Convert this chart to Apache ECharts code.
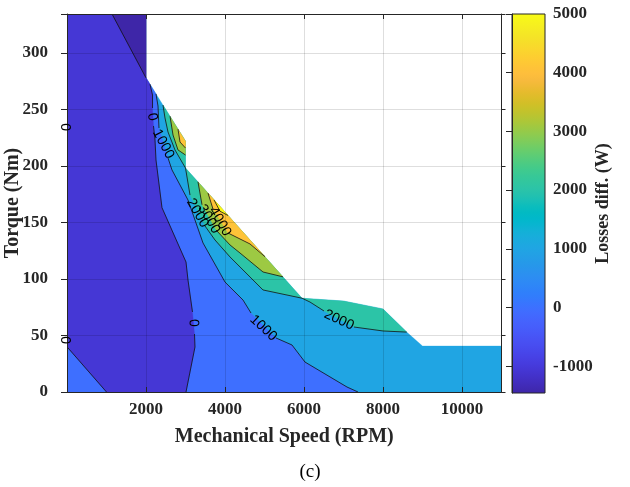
<!DOCTYPE html>
<html><head><meta charset="utf-8">
<script src="https://cdn.jsdelivr.net/npm/echarts@6/dist/echarts.min.js"></script>
<style>html,body{margin:0;padding:0;background:#fff}#c{width:630px;height:487px}</style>
</head><body><div id="c"></div>
<script>
// ---- data (speed in RPM, torque in Nm, losses diff. in W) ----
const speedTicks = [2000, 4000, 6000, 8000, 10000];
const torqueTicks = [0, 50, 100, 150, 200, 250, 300];
const colorbarTicks = [-1000, 0, 1000, 2000, 3000, 4000, 5000];
const lossMin = -1457, lossMax = 5000;
const speedMax = 11000, torqueMax = 334.5;

// operating envelope (outline of the data)
const envelope = [[0,0],[0,334.5],[2000,334.5],[2000,278],[3000,222],[3000,198.2],[5950,83],[7000,80.5],[8000,73.5],[8600,53],[9000,40.7],[11000,40.7],[11000,0]];

// contour lines (null = break under a label)
const contourM1000 = [[1140,334.5],[2000,278]];
const contour0 = [[2101,272.3],[2165,262.8],[2165,251.3],null,[2190,235.4],[2228,223],[2253,205.3],[2405,163.1],[3013,115],[3063,99.1],[3177,70.8],null,[3228,51.3],[3240,39.8],[3013,0]];
const contour0Corner = [[0,40],[1000,0]];
const contour1000 = [[2253,263.8],[2304,253.1],[2329,233.6],null,[2557,207.1],[2658,196.5],[3063,169.9],[3443,131.9],[4000,97.3],[4456,81.4],[4658,69.9],null,[5291,47.8],[5696,41.6],[6025,26.5],[7089,4.4],[7367,0]];
const contour2000 = [[2430,253.9],[2481,242.5],[2557,230.1],[2734,214.2],[2911,203.5],[3000,198.2],[3114,174.3],null,[3494,146.9],[3747,134.5],[4127,119.5],[4962,90.3],[5950,83],[6152,79.6],[6506,71.7],null,[7266,57.5],[8000,54],[8600,53]];
const contour3000Upper = [[2608,244],[2684,227.4],[2810,214.2],[3000,209.7]];
const contour3000Lower = [[3316,186],[3418,165.7],null,[3772,143.4],[4127,130.1],[4380,123],[4962,106.2],[5468,101.9]];
const contour4000Upper = [[2810,232.6],[2861,221.2],[3000,215.9]];
const contour4000Lower = [[3570,176],[3696,161.9],null,[4076,140.7],[4633,131],[5013,119.7]];
const contour5000 = [[3722,170],[3873,160],[4076,156.2]];

// contour labels: [speed, torque, text, angle(deg, ccw)]
const contourLabels = [
  [0, 234.5, '0', 90],
  [0, 46, '0', 90],
  [2160, 243.4, '0', -80],
  [3200, 61.1, '0', -88],
  [2438, 219.5, '1000', -62],
  [4970, 56.6, '1000', -43],
  [6886, 63.7, '2000', -25],
  [3304, 158.4, '2000', -60],
  [3595, 153.1, '3000', -60],
  [3873, 150.9, '4000', -60]
];

// MATLAB parula colormap (64)
const parula = ['#3e26a8','#402ab4','#422ec0','#4332cb','#4537d5','#463cde','#4741e5','#4747eb','#484df0','#4852f4','#4758f8','#465efb','#4563fd','#4269fe','#3e6fff','#3875fe','#327cfc','#2f81fa','#2e87f7','#2d8cf3','#2b91ef','#2796eb','#259be8','#23a0e5','#20a5e3','#1ca9df','#18addb','#12b1d6','#08b5d0','#01b8ca','#02bac3','#0bbdbd','#19bfb6','#24c1ae','#2cc4a7','#31c69f','#37c897','#3fca8e','#4acb84','#57cc7a','#64cd6f','#72cd64','#81cc59','#8fcb4e','#9dc943','#abc739','#b9c431','#c5c22a','#d1bf27','#dcbd29','#e6bb2d','#f0ba36','#f8ba3d','#febe3c','#fec338','#fec934','#fccf30','#fad62d','#f7dc2a','#f5e327','#f5e924','#f6ef20','#f7f51b','#f9fb15'];

function levelColor(v){
  let i = Math.floor((v - lossMin) / (lossMax - lossMin) * parula.length);
  return parula[Math.max(0, Math.min(parula.length - 1, i))];
}
const solid = arr => arr.filter(p => p);

// filled bands, painted from bottom to top
const fills = [
  {v: 1000, pts: envelope},
  {v: 0, pts: [envelope[0], envelope[1], envelope[2], envelope[3]].concat(solid(contour1000))},
  {v: -1000, pts: [contour0Corner[0], envelope[1], envelope[2], envelope[3]].concat(solid(contour0), [contour0Corner[1]])},
  {v: lossMin, pts: [contourM1000[0], envelope[2], contourM1000[1]]},
  {v: 2000, pts: solid(contour2000).concat([envelope[8], envelope[7], envelope[6], envelope[5], envelope[4]])},
  {v: 3000, pts: contour3000Upper.concat([envelope[4]])},
  {v: 3000, pts: solid(contour3000Lower)},
  {v: 4000, pts: contour4000Upper.concat([envelope[4]])},
  {v: 4000, pts: solid(contour4000Lower)},
  {v: 5000, pts: contour5000}
];
const lines = [contourM1000, contour0, contour0Corner, contour1000, contour2000, contour3000Upper, contour3000Lower, contour4000Upper, contour4000Lower, contour5000];

const ink = '#262626';
const serif = '"Liberation Serif", "Times New Roman", serif';

const chart = echarts.init(document.getElementById('c'), null, {renderer: 'canvas'});
chart.setOption({
  animation: false,
  backgroundColor: '#fff',
  grid: [
    {left: 67, top: 14, width: 434.5, height: 378, outerBoundsMode: 'none', containLabel: false},
    {left: 512, top: 14, width: 33, height: 379, outerBoundsMode: 'none', containLabel: false}
  ],
  xAxis: [
    {gridIndex: 0, type: 'value', min: 0, max: speedMax, interval: 2000, z: 10,
     name: 'Mechanical Speed (RPM)', nameLocation: 'middle', nameGap: 35, nameMoveOverlap: false,
     nameTextStyle: {fontFamily: serif, fontWeight: 'bold', fontSize: 20, color: ink},
     axisLine: {show: true, onZero: false, lineStyle: {color: ink, width: 1}},
     axisTick: {show: true, inside: true, length: 5, lineStyle: {color: ink}},
     axisLabel: {fontFamily: serif, fontWeight: 'bold', fontSize: 17, color: ink, margin: 9,
       formatter: v => speedTicks.indexOf(v) >= 0 ? String(v) : ''},
     splitLine: {show: true, lineStyle: {color: 'rgba(0,0,0,0.13)', width: 1}}},
    {gridIndex: 0, type: 'value', min: 0, max: speedMax, interval: 2000, position: 'top', z: 10,
     axisLine: {show: true, onZero: false, lineStyle: {color: ink, width: 1}},
     axisTick: {show: true, inside: true, length: 5, lineStyle: {color: ink}},
     axisLabel: {show: false}, splitLine: {show: false}},
    {gridIndex: 1, type: 'value', min: 0, max: 1, show: false}
  ],
  yAxis: [
    {gridIndex: 0, type: 'value', min: 0, max: torqueMax, interval: 50, z: 10,
     name: 'Torque (Nm)', nameLocation: 'middle', nameGap: 44, nameRotate: 90, nameMoveOverlap: false,
     nameTextStyle: {fontFamily: serif, fontWeight: 'bold', fontSize: 20, color: ink},
     axisLine: {show: true, onZero: false, lineStyle: {color: ink, width: 1}},
     axisTick: {show: true, inside: false, length: 6, lineStyle: {color: ink}},
     axisLabel: {fontFamily: serif, fontWeight: 'bold', fontSize: 17, color: ink, margin: 19,
       formatter: v => torqueTicks.indexOf(v) >= 0 ? String(v) : ''},
     splitLine: {show: true, lineStyle: {color: 'rgba(0,0,0,0.13)', width: 1}}},
    {gridIndex: 0, type: 'value', min: 0, max: torqueMax, interval: 50, position: 'right', z: 10,
     axisLine: {show: true, onZero: false, lineStyle: {color: ink, width: 1}},
     axisTick: {show: true, inside: false, length: 4, lineStyle: {color: ink}},
     axisLabel: {show: false}, splitLine: {show: false}},
    {gridIndex: 1, type: 'value', min: lossMin, max: lossMax, position: 'right', z: 10,
     name: 'Losses diff. (W)', nameLocation: 'middle', nameGap: 49, nameRotate: 90, nameMoveOverlap: false,
     nameTextStyle: {fontFamily: serif, fontWeight: 'bold', fontSize: 18, color: ink},
     axisLine: {show: true, lineStyle: {color: ink, width: 1}},
     axisTick: {show: true, inside: true, length: 6, customValues: colorbarTicks, lineStyle: {color: ink}},
     axisLabel: {fontFamily: serif, fontWeight: 'bold', fontSize: 17, color: ink, margin: 8, customValues: colorbarTicks,
       formatter: v => String(v)},
     splitLine: {show: false}}
  ],
  series: [
    {type: 'custom', xAxisIndex: 0, yAxisIndex: 0, z: 2, clip: true,
     data: fills.map((f, i) => [i, 0]),
     renderItem: (params, api) => {
       const f = fills[params.dataIndex];
       return {type: 'polygon', shape: {points: f.pts.map(p => api.coord(p))},
               style: {fill: levelColor(f.v), stroke: levelColor(f.v), lineWidth: 0.3}};
     }},
    {type: 'custom', xAxisIndex: 0, yAxisIndex: 0, z: 3, clip: true,
     data: lines.map((l, i) => [i, 0]),
     renderItem: (params, api) => {
       const l = lines[params.dataIndex];
       const children = [];
       let seg = [];
       const flush = () => { if (seg.length > 1) children.push({type: 'polyline', shape: {points: seg}, style: {stroke: '#111', lineWidth: 0.8, fill: null}}); seg = []; };
       l.forEach(p => { if (p) seg.push(api.coord(p)); else flush(); });
       flush();
       return {type: 'group', children};
     }},
    {type: 'custom', xAxisIndex: 0, yAxisIndex: 0, z: 12, clip: false,
     data: contourLabels.map(l => [l[0], l[1]]),
     renderItem: (params, api) => {
       const l = contourLabels[params.dataIndex];
       const c = api.coord([l[0], l[1]]);
       return {type: 'text', x: c[0], y: c[1], rotation: l[3] * Math.PI / 180,
               style: {text: l[2], fill: '#000', font: '14px "Liberation Sans", Arial, sans-serif', align: 'center', verticalAlign: 'middle'}};
     }},
    {type: 'custom', xAxisIndex: 2, yAxisIndex: 2, z: 2, clip: false,
     data: [[0, lossMin]],
     renderItem: (params, api) => {
       const a = api.coord([0, lossMax]);
       const b = api.coord([1, lossMin]);
       return {type: 'rect', shape: {x: a[0], y: a[1], width: b[0] - a[0], height: b[1] - a[1]},
               style: {fill: new echarts.graphic.LinearGradient(0, 1, 0, 0, parula.map((c, i) => ({offset: i / (parula.length - 1), color: c}))),
                       stroke: ink, lineWidth: 1}};
     }}
  ],
  graphic: [
    {type: 'text', x: 310, y: 472, style: {text: '(c)', font: '19px ' + serif, fill: '#000', align: 'center', verticalAlign: 'middle'}}
  ]
});
</script></body></html>
